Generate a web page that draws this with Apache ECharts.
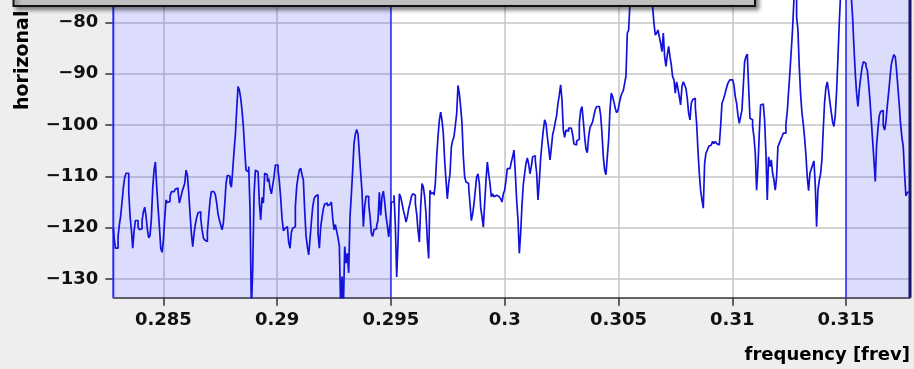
<!DOCTYPE html>
<html>
<head>
<meta charset="utf-8">
<script src="https://cdn.jsdelivr.net/npm/echarts@6/dist/echarts.min.js"></script>
<style>
  html, body { margin: 0; padding: 0; background: #eeeeee; }
  #chart { width: 914px; height: 369px; }
</style>
</head>
<body>
<div id="chart"></div>
<script>
// Spectrum bins: first bin frequency and bin spacing [frev]
const FREQ_START = 0.2828046;
const FREQ_STEP = 0.00005858;

// Horizontal spectrum amplitude per bin [dB]
const HORIZ_DB = [
  -120.1,-122.0,-124.0,-124.0,-121.7,-119.4,-117.6,-114.9,-112.1,-110.2,
  -109.4,-109.4,-113.0,-117.8,-120.4,-124.0,-120.7,-118.6,-118.6,-119.9,
  -120.4,-120.2,-118.7,-116.9,-116.0,-117.8,-120.4,-122.0,-121.5,-118.2,
  -112.3,-108.8,-107.2,-112.1,-116.1,-119.8,-124.0,-124.8,-122.4,-118.2,
  -114.6,-115.1,-114.9,-113.9,-113.0,-113.0,-112.7,-112.5,-112.3,-112.9,
  -115.2,-114.2,-113.0,-112.2,-111.4,-108.8,-109.8,-113.2,-117.3,-121.1,
  -123.7,-121.1,-119.3,-118.0,-117.1,-116.9,-118.2,-120.4,-122.0,-122.4,
  -122.7,-120.9,-117.7,-114.7,-113.0,-113.0,-113.0,-113.6,-115.2,-117.4,
  -118.5,-119.5,-120.4,-119.1,-115.5,-111.4,-109.8,-110.0,-111.4,-112.1,
  -108.8,-105.1,-101.9,-96.9,-92.5,-93.2,-94.8,-97.2,-100.4,
  -104.9,-108.8,-109.1,-108.1,-116.5,-136.0,-128.2,-113.6,-108.8,-109.1,
  -109.3,-115.2,-118.5,-114.1,-115.2,-109.4,-109.7,-111.0,-110.4,-112.3,
  -113.4,-113.3,-110.1,-107.8,-107.8,-108.8,-111.0,-114.3,-118.2,-120.6,
  -120.2,-120.1,-119.8,-122.9,-124.0,-120.9,-120.1,-119.8,-115.9,-112.0,
  -110.1,-108.8,-108.4,-109.7,-110.7,-116.7,-121.6,-123.7,-125.3,-122.2,
  -118.9,-116.0,-114.4,-113.9,-113.6,-121.1,-124.0,-119.9,-118.0,-116.3,
  -115.4,-115.2,-115.7,-115.5,-115.7,-115.0,-118.1,-120.4,-119.4,-120.7,
  -122.0,-123.6,-136.0,-129.5,-136.0,-123.7,-126.9,-125.0,-128.8,-117.8,
  -113.6,-108.8,-103.6,-101.8,-100.9,-101.8,-105.5,-109.4,-113.0,-119.8,
  -115.9,-113.9,-113.9,-115.4,-117.8,-121.1,-121.7,-120.4,-120.2,-119.6,
  -118.5,
  -113.1,-117.6,-114.0,-112.9,-115.0,-117.8,-119.5,-121.8,-119.5,-115.0,
  -115.0,-113.7,-119.5,-129.6,-123.0,-113.4,-114.0,-115.3,-116.6,-117.6,
  -118.9,-117.9,-116.3,-115.3,-114.0,-113.4,-113.7,-115.3,-117.3,-120.5,
  -122.8,-116.0,-111.4,-112.1,-114.0,-117.3,-122.5,-126.0,-112.7,-113.4,
  -113.1,-113.7,-111.4,-106.2,-102.3,-99.1,-97.5,-99.1,-101.7,-106.9,
  -110.8,-114.4,-111.4,-109.5,-104.3,-103.0,-102.3,-100.1,-97.8,-92.3,
  -93.9,-96.5,-99.7,-106.2,-110.1,-111.1,-111.4,-112.1,-115.3,-118.6,
  -117.3,-115.3,-112.7,-110.1,-109.5,-111.4,-116.0,-117.9,-119.9,-115.3,
  -110.8,-107.2,-109.5,-111.4,-114.0,-113.4,-114.0,-113.7,-114.0,-114.0,
  -113.7,-114.4,-115.0,-113.4,-112.7,-110.8,-108.5,-108.5,-108.8,-107.2,
  -106.2,-104.9,
  -109.4,-114.6,-118.5,-125.0,-121.1,-115.6,-111.5,-109.5,-107.5,-106.4,
  -107.6,-109.5,-108.1,-106.2,-106.0,-107.0,-109.3,-114.6,-111.0,-106.5,
  -103.6,-101.0,-99.0,-99.7,-102.3,-104.4,-106.8,-104.5,-101.9,-100.8,
  -99.4,-98.1,-95.8,-94.2,-92.2,-95.1,-101.0,-102.4,-101.0,-101.2,
  -100.6,-100.6,-100.8,-101.9,-103.7,-103.9,-103.1,-102.8,-99.7,-97.2,
  -96.4,-99.2,-102.3,-104.7,-105.4,-102.3,-100.5,-100.6,-99.4,-98.1,
  -97.0,-96.4,-96.4,-96.7,-98.1,-101.6,-106.2,-108.8,-109.7,-106.2,
  -102.9,-97.1,-93.8,-94.5,-95.6,-96.8,-97.6,-97.2,-95.8,-94.6,
  -93.8,-93.3,-93.2,-90.5,-82.1,-81.5,-76.3,-73.0,-70.0,-67.5,
  -65.5,-64.0,-63.0,-62.5,-63.0,-64.5,-66.5,-69.0,-70.5,-72.0,
  -73.5,
  -74.5,-76.0,-77.0,-80.2,-82.5,-82.1,-81.5,-82.8,-84.1,-85.7,
  -82.1,-86.7,-88.6,-86.4,-84.7,-86.7,-88.3,-90.6,-91.2,-93.8,
  -91.6,-92.9,-94.5,-96.1,-92.5,-91.6,-92.2,-92.9,-94.8,-97.7,
  -99.0,-95.8,-95.1,-94.8,-96.4,-99.7,-104.9,-109.4,-112.7,-114.6,
  -116.2,-107.5,-105.5,-104.9,-104.2,-103.9,-103.6,-103.2,-103.6,-103.2,
  -103.6,-103.9,-104.2,-100.3,-95.8,-95.1,-94.2,-93.2,-92.2,-91.6,
  -91.2,-91.2,-91.2,-92.2,-94.5,-95.8,-98.1,-99.7,-98.4,-97.1,
  -92.5,-87.7,-86.7,-86.2,-92.5,-98.7,-99.0,-100.3,-102.3,-105.5,
  -112.7,-108.1,-101.6,-96.1,-95.9,-96.1,-99.0,-105.5,-114.6,-106.2,
  -108.1,-106.8,-109.4,-110.7,-112.7,-110.1,-104.2,-103.6,-102.9,-102.3,
  -101.6,
  -101.6,-99.8,-97.4,-93.5,-89.6,-85.5,-81.2,-75.5,-75.5,-78.9,
  -81.5,-88.6,-94.0,-97.6,-99.8,-102.5,-105.9,-110.2,-112.8,-109.4,
  -108.6,-107.8,-107.0,-111.7,-119.8,-112.7,-110.8,-109.5,-106.7,-100.8,
  -95.6,-92.7,-91.6,-93.4,-95.6,-97.5,-99.4,-100.3,-98.1,-93.5,
  -87.0,-80.2,-74.5,-72.5,-71.0,-70.0,-69.5,-70.0,-71.0,-72.5,
  -75.0,-78.9,-84.7,-89.9,-93.8,-96.4,-93.2,-90.9,-89.0,-87.7,
  -88.0,-88.6,-89.3,-91.9,-95.1,-99.0,-102.9,-106.8,-111.0,-104.0,
  -100.8,-98.2,-97.4,-97.2,-100.1,-101.0,-99.5,-96.4,-93.8,-91.0,
  -88.3,-87.1,-86.3,-86.7,-89.4,-92.7,-96.1,-99.8,-102.4,-104.2,
  -109.5,-113.8,-113.2,-113.0
];

// Axis ranges and tick labels
const X_RANGE = [0.2828, 0.31781];
const Y_RANGE = [-133.64, -75.66];
const X_TICKS = [0.285, 0.29, 0.295, 0.3, 0.305, 0.31, 0.315];
const Y_TICKS = [-130, -120, -110, -100, -90, -80];

// Shaded frequency bands (outside the central window)
const BANDS = [[0.2828, 0.295], [0.315, 0.31781]];

const X_NAME = 'frequency [frev]';
const Y_NAME = 'horizonal';

const points = HORIZ_DB.map((v, i) => [FREQ_START + i * FREQ_STEP, v]);

const LABEL_FONT = {
  fontFamily: 'DejaVu Sans',
  fontWeight: 'bold',
  fontSize: 18,
  color: '#111111'
};

// Vertical edges of the shaded bands, drawn as full-height segments
const edgeStyles = [
  { color: '#2a2aff', width: 2 },
  { color: '#2a2aff', width: 1.5 },
  { color: '#2a2aff', width: 1.5 },
  { color: '#16166a', width: 3 }
];
const edgeFreqs = [BANDS[0][0], BANDS[0][1], BANDS[1][0], BANDS[1][1]];
const edgeSeries = edgeFreqs.map((f, k) => ({
  type: 'line',
  data: [[f, Y_RANGE[0]], [f, Y_RANGE[1]]],
  showSymbol: false,
  clip: false,
  silent: true,
  z: 3,
  lineStyle: edgeStyles[k]
}));

const chart = echarts.init(document.getElementById('chart'), null, { renderer: 'canvas' });

chart.setOption({
  animation: false,
  backgroundColor: '#eeeeee',
  grid: {
    left: 113.3, right: 4, top: 0, bottom: 71.3,
    show: true, backgroundColor: '#ffffff', borderWidth: 0,
    containLabel: false, outerBoundsMode: 'none'
  },
  xAxis: {
    type: 'value',
    min: X_RANGE[0], max: X_RANGE[1],
    axisLine: { show: true, onZero: false, lineStyle: { color: '#333333', width: 1.5 } },
    axisTick: { show: true, length: 8, customValues: X_TICKS, lineStyle: { color: '#333333', width: 1.5 } },
    axisLabel: Object.assign({ margin: 14, customValues: X_TICKS, formatter: v => String(v) }, LABEL_FONT),
    splitLine: { show: true, lineStyle: { color: '#c6c6c6', width: 1.5 } }
  },
  yAxis: {
    type: 'value',
    min: Y_RANGE[0], max: Y_RANGE[1],
    axisLine: { show: false },
    axisTick: { show: true, length: 8, customValues: Y_TICKS, lineStyle: { color: '#333333', width: 1.5 } },
    axisLabel: Object.assign({
      margin: 15, customValues: Y_TICKS,
      formatter: v => String(v).replace('-', '\u2212')
    }, LABEL_FONT),
    splitLine: { show: true, lineStyle: { color: '#c6c6c6', width: 1.5 } }
  },
  series: [{
    type: 'line',
    data: points,
    showSymbol: false,
    clip: true,
    step: 'middle',
    z: 4,
    lineStyle: { color: '#1212dc', width: 1.7 },
    markArea: {
      silent: true,
      itemStyle: { color: 'rgba(40,40,235,0.16)', borderWidth: 0 },
      data: BANDS.map(b => [{ xAxis: b[0] }, { xAxis: b[1] }])
    }
  }].concat(edgeSeries),
  graphic: [
    {
      type: 'text', x: 910, y: 355.5,
      style: Object.assign({ text: X_NAME, align: 'right', verticalAlign: 'middle' }, LABEL_FONT)
    },
    {
      type: 'text', x: 23, y: 110, rotation: Math.PI / 2,
      style: Object.assign({ text: Y_NAME, align: 'left', verticalAlign: 'middle' }, LABEL_FONT, { fontSize: 19 })
    },
    {
      type: 'rect', z: 100,
      shape: { x: 13.5, y: -30, width: 741.5, height: 36 },
      style: {
        fill: '#c0c0c0', stroke: '#111111', lineWidth: 2,
        shadowBlur: 4, shadowOffsetX: 3, shadowOffsetY: 3, shadowColor: 'rgba(0,0,0,0.45)'
      }
    }
  ]
});
</script>
</body>
</html>
